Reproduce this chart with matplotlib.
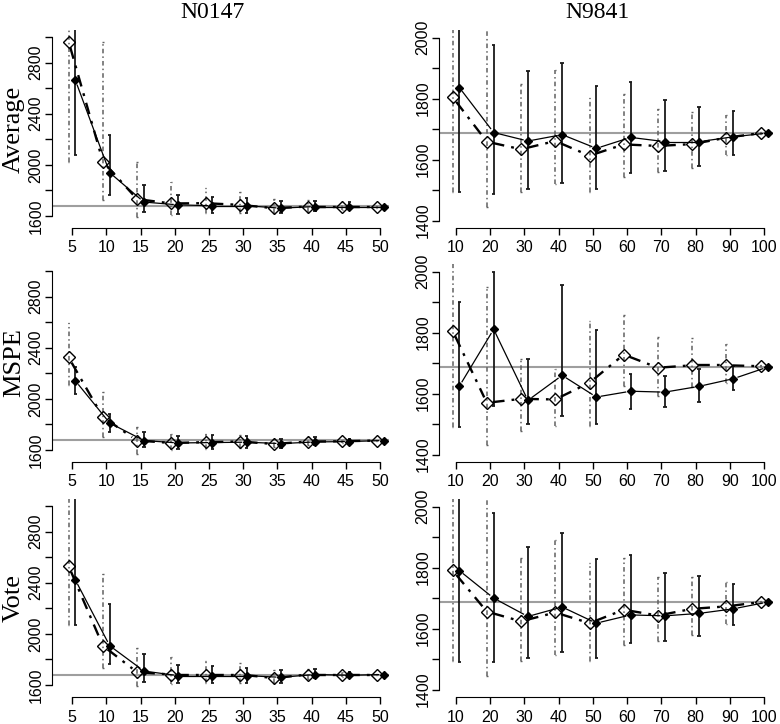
import numpy as np
import matplotlib
matplotlib.use('Agg')
import matplotlib.pyplot as plt

# x grids for the two data sets
x_147 = [5, 10, 15, 20, 25, 30, 35, 40, 45, 50]
x_9841 = [10, 20, 30, 40, 50, 60, 70, 80, 90, 100]

# reference (true) level per data set
ref_147 = 1682
ref_9841 = 1689

# open diamonds (dash-dot) and filled diamonds (solid); mean, lower, upper
avg_147_open = [2964, 2026, 1732, 1698, 1700, 1687, 1661, 1674, 1674, 1674]
avg_147_open_lo = [2026, 1727, 1590, 1608, 1621, 1621, 1621, 1634, 1648, 1666]
avg_147_open_hi = [3200, 2964, 2026, 1865, 1817, 1785, 1732, 1727, 1709, 1682]
avg_147_fill = [2660, 1939, 1709, 1687, 1680, 1680, 1661, 1674, 1674, 1674]
avg_147_fill_lo = [2079, 1767, 1634, 1616, 1621, 1626, 1621, 1642, 1648, 1666]
avg_147_fill_hi = [3200, 2236, 1844, 1767, 1748, 1740, 1717, 1720, 1706, 1682]

avg_9841_open = [1805, 1659, 1634, 1661, 1613, 1650, 1645, 1651, 1672, 1687]
avg_9841_open_lo = [1495, 1446, 1493, 1519, 1493, 1542, 1558, 1574, 1614, 1683]
avg_9841_open_hi = [2100, 2100, 1847, 1894, 1801, 1814, 1766, 1756, 1745, 1691]
avg_9841_fill = [1836, 1689, 1661, 1682, 1637, 1673, 1659, 1659, 1675, 1687]
avg_9841_fill_lo = [1495, 1486, 1504, 1525, 1504, 1555, 1563, 1580, 1615, 1683]
avg_9841_fill_hi = [2100, 1976, 1889, 1918, 1842, 1854, 1796, 1774, 1760, 1691]

mspe_147_open = [2324, 1858, 1674, 1655, 1661, 1666, 1647, 1666, 1668, 1674]
mspe_147_open_lo = [2108, 1700, 1568, 1600, 1608, 1613, 1621, 1642, 1655, 1668]
mspe_147_open_hi = [2595, 2055, 1779, 1726, 1726, 1718, 1687, 1700, 1682, 1680]
mspe_147_fill = [2140, 1811, 1674, 1655, 1658, 1661, 1650, 1663, 1666, 1674]
mspe_147_fill_lo = [2037, 1739, 1626, 1608, 1608, 1616, 1616, 1640, 1642, 1668]
mspe_147_fill_hi = [2253, 1879, 1739, 1708, 1721, 1708, 1687, 1700, 1687, 1680]

mspe_9841_open = [1806, 1570, 1583, 1581, 1636, 1728, 1685, 1693, 1693, 1690]
mspe_9841_open_lo = [1490, 1432, 1479, 1495, 1495, 1625, 1591, 1622, 1635, 1686]
mspe_9841_open_hi = [2027, 1951, 1715, 1682, 1839, 1857, 1786, 1781, 1764, 1694]
mspe_9841_fill = [1625, 1811, 1578, 1660, 1589, 1608, 1605, 1624, 1649, 1687]
mspe_9841_fill_lo = [1490, 1558, 1501, 1528, 1499, 1550, 1556, 1572, 1611, 1683]
mspe_9841_fill_hi = [1901, 2000, 1712, 1956, 1810, 1665, 1657, 1680, 1691, 1691]

vote_147_open = [2530, 1907, 1700, 1682, 1682, 1682, 1654, 1682, 1682, 1682]
vote_147_open_lo = [2070, 1736, 1595, 1605, 1614, 1619, 1614, 1649, 1660, 1676]
vote_147_open_hi = [3200, 2465, 1886, 1818, 1790, 1769, 1714, 1722, 1703, 1688]
vote_147_fill = [2420, 1907, 1709, 1673, 1673, 1673, 1660, 1682, 1676, 1682]
vote_147_fill_lo = [2070, 1763, 1627, 1614, 1619, 1619, 1619, 1654, 1654, 1676]
vote_147_fill_hi = [3200, 2231, 1845, 1755, 1750, 1736, 1714, 1722, 1703, 1688]

vote_9841_open = [1791, 1656, 1624, 1653, 1618, 1662, 1643, 1665, 1673, 1687]
vote_9841_open_lo = [1493, 1446, 1493, 1515, 1493, 1545, 1561, 1578, 1616, 1683]
vote_9841_open_hi = [2100, 2100, 1831, 1891, 1815, 1831, 1769, 1769, 1752, 1691]
vote_9841_fill = [1790, 1700, 1640, 1671, 1618, 1645, 1642, 1650, 1665, 1687]
vote_9841_fill_lo = [1491, 1491, 1504, 1523, 1504, 1553, 1560, 1577, 1613, 1683]
vote_9841_fill_hi = [2100, 1978, 1867, 1913, 1829, 1842, 1784, 1771, 1747, 1691]

col_titles = ['N0147', 'N9841']
row_labels = ['Average', 'MSPE', 'Vote']

#%%

panels = {
    (0, 0): (avg_147_open, avg_147_open_lo, avg_147_open_hi, avg_147_fill, avg_147_fill_lo, avg_147_fill_hi),
    (0, 1): (avg_9841_open, avg_9841_open_lo, avg_9841_open_hi, avg_9841_fill, avg_9841_fill_lo, avg_9841_fill_hi),
    (1, 0): (mspe_147_open, mspe_147_open_lo, mspe_147_open_hi, mspe_147_fill, mspe_147_fill_lo, mspe_147_fill_hi),
    (1, 1): (mspe_9841_open, mspe_9841_open_lo, mspe_9841_open_hi, mspe_9841_fill, mspe_9841_fill_lo, mspe_9841_fill_hi),
    (2, 0): (vote_147_open, vote_147_open_lo, vote_147_open_hi, vote_147_fill, vote_147_fill_lo, vote_147_fill_hi),
    (2, 1): (vote_9841_open, vote_9841_open_lo, vote_9841_open_hi, vote_9841_fill, vote_9841_fill_lo, vote_9841_fill_hi),
}

W, H = 780, 724
col_px = [(52, 337), (439, 334)]          # left edge, width
row_px = [(30, 228), (264, 462), (499, 697)]  # top, bottom
title_x = [212, 597]
xlims = [(2.07, 51.3), (5.03, 102.6)]
ylims = [(1506, 3055), (1376, 2025)]
shift = [0.5, 1.0]
xticks = [x_147, x_9841]
yticks = [np.arange(1600, 3001, 200), np.arange(1400, 2001, 100)]
ylabstep = [400, 200]
refs = [ref_147, ref_9841]

sans = 'Liberation Sans'
serif = 'Liberation Serif'


def gapline(ax, x, y, gap, **kw):
    # type="b" style: segments between points with a gap round each point
    pts = ax.transData.transform(np.column_stack([x, y]))
    inv = ax.transData.inverted()
    for p, q in zip(pts[:-1], pts[1:]):
        d = q - p
        L = np.hypot(d[0], d[1])
        if L <= 2 * gap:
            continue
        u = d / L
        seg = inv.transform(np.array([p + u * gap, q - u * gap]))
        ax.plot(seg[:, 0], seg[:, 1], **kw)


fig = plt.figure(figsize=(W / 100, H / 100), dpi=100)

for (r, c), (om, olo, ohi, fm, flo, fhi) in panels.items():
    left, width = col_px[c]
    top, bottom = row_px[r]
    ax = fig.add_axes([left / W, 1 - bottom / H, width / W, (bottom - top) / H])
    ax.set_xlim(*xlims[c])
    ax.set_ylim(*ylims[c])

    xs = np.array(xticks[c], dtype=float)
    xo = xs - shift[c]
    xf = xs + shift[c]
    cap_o = 0.22 * shift[c]
    cap_f = 0.5 * shift[c]

    ax.axhline(refs[c], color='0.62', lw=1.5, zorder=1)

    # error bars
    ax.vlines(xo, olo, ohi, color='0.38', lw=1.1, linestyles=(0, (3, 2, 1, 2)), zorder=2)
    ax.hlines(olo, xo - cap_o, xo + cap_o, color='0.38', lw=1.0, zorder=2)
    ax.hlines(ohi, xo - cap_o, xo + cap_o, color='0.38', lw=1.0, zorder=2)
    ax.vlines(xf, flo, fhi, color='0.1', lw=1.3, zorder=3)
    ax.hlines(flo, xf - cap_f, xf + cap_f, color='0.1', lw=1.3, zorder=3)
    ax.hlines(fhi, xf - cap_f, xf + cap_f, color='0.1', lw=1.3, zorder=3)

    # connecting lines
    gapline(ax, xo, om, 6, color='black', lw=1.7, ls=(0, (5, 3, 1.2, 3)), zorder=4)
    gapline(ax, xf, fm, 5, color='black', lw=0.9, ls='-', zorder=4)

    # markers
    ax.plot(xo, om, ls='none', marker='D', ms=6, mfc='none', mec='black', mew=1.0, zorder=5)
    ax.plot(xf, fm, ls='none', marker='D', ms=4, mfc='black', mec='black', zorder=5)

    # R-like axes
    for s in ['top', 'right']:
        ax.spines[s].set_visible(False)
    ax.spines['left'].set_bounds(yticks[c][0], yticks[c][-1])
    ax.spines['bottom'].set_bounds(xticks[c][0], xticks[c][-1])
    ax.set_xticks(xticks[c])
    ax.set_xticklabels([str(v) for v in xticks[c]], fontfamily=sans, fontsize=11.5)
    ax.set_yticks(yticks[c])
    ax.set_yticklabels([str(v) if (v - yticks[c][0]) % ylabstep[c] == 0 else '' for v in yticks[c]],
                       fontfamily=sans, fontsize=11.5, rotation=90, va='center')
    ax.tick_params(axis='x', direction='out', length=5, width=1, pad=4)
    ax.tick_params(axis='y', direction='out', length=5, width=1, pad=1)

    if r == 0:
        fig.text(title_x[c] / W, 1 - 12 / H, col_titles[c], ha='center', va='center',
                 fontfamily=serif, fontsize=17)
    if c == 0:
        fig.text(14 / W, 1 - (top + bottom) / 2 / H, row_labels[r], ha='center', va='center',
                 rotation=90, fontfamily=serif, fontsize=19)

plt.savefig('out.png', dpi=100)
